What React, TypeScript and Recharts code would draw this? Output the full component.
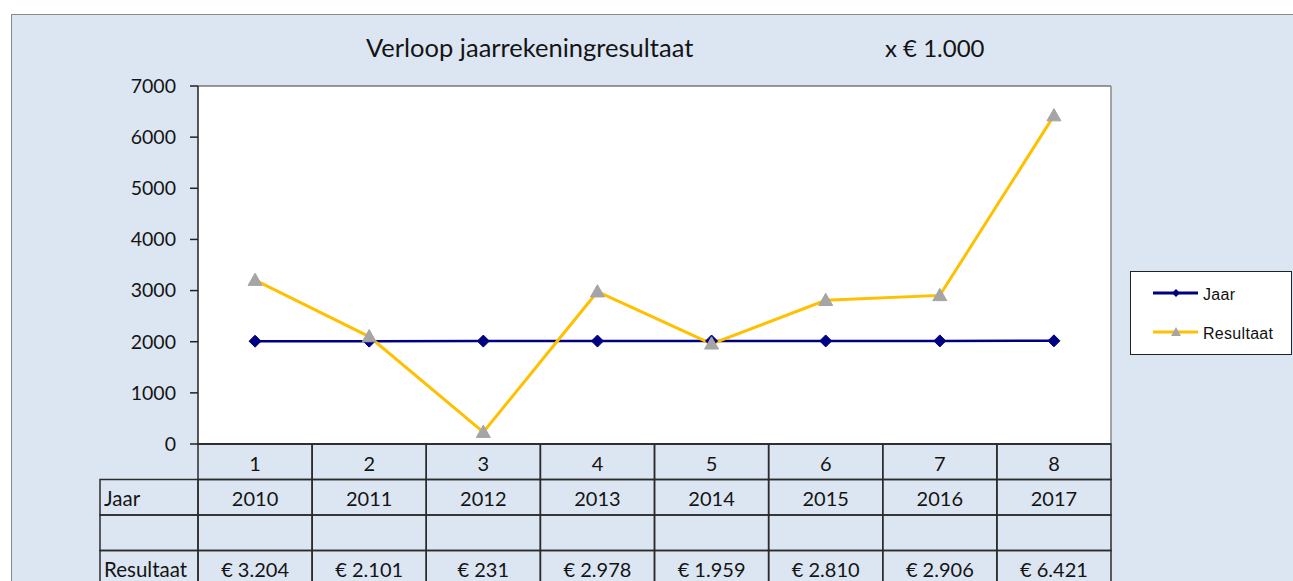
import React from 'react';
import { LineChart, Line, XAxis, YAxis, CartesianGrid } from 'recharts';

const categories = ['1', '2', '3', '4', '5', '6', '7', '8'];
const jaarValues = [2010, 2011, 2012, 2013, 2014, 2015, 2016, 2017];
const resultaatValues = [3204, 2101, 231, 2978, 1959, 2810, 2906, 6421];
const resultaatLabels = ['€ 3.204', '€ 2.101', '€ 231', '€ 2.978', '€ 1.959', '€ 2.810', '€ 2.906', '€ 6.421'];
const yTicks = [0, 1000, 2000, 3000, 4000, 5000, 6000, 7000];
const rowLabels = ['Jaar', '', 'Resultaat'];
const seriesNames = ['Jaar', 'Resultaat'];

const data = categories.map((c, i) => ({ cat: c, Jaar: jaarValues[i], Resultaat: resultaatValues[i] }));

const W = 1293;
const H = 581;
const PLOT_LEFT = 198;
const PLOT_RIGHT = 1111;
const PLOT_TOP = 86;
const PLOT_BOTTOM = 444;
const CELL_W = (PLOT_RIGHT - PLOT_LEFT) / categories.length;
const ROW_H = 35.5;
const LABEL_W = 98;
const BG = '#dce6f2';
const NAVY = '#000080';
const GOLD = '#ffc000';
const GREY = '#a5a5a5';
const FRAME = '#8a8a8a';
const FONT = 'Lato, "Open Sans", sans-serif';
const TABLE_STROKE = '#2b2b2b';
const TEXT = '#141414';

const Diamond = (props: any) => {
  const { cx, cy } = props;
  if (cx == null || cy == null) return null;
  const r = 6;
  return <polygon points={`${cx},${cy - r} ${cx + r},${cy} ${cx},${cy + r} ${cx - r},${cy}`} fill={NAVY} stroke={NAVY} />;
};

const Triangle = (props: any) => {
  const { cx, cy } = props;
  if (cx == null || cy == null) return null;
  const r = 7;
  return <polygon points={`${cx},${cy - r} ${cx + r},${cy + r * 0.75} ${cx - r},${cy + r * 0.75}`} fill={GREY} stroke={GREY} />;
};

const TableTick = (props: any) => {
  const { x, y, payload } = props;
  const i = payload.index;
  const left = x - CELL_W / 2;
  const cells = [categories[i], String(jaarValues[i]), '', resultaatLabels[i]];
  return (
    <g>
      {cells.map((t, r) => (
        <g key={r}>
          <rect x={left} y={y + r * ROW_H} width={CELL_W} height={ROW_H} fill="none" stroke={TABLE_STROKE} strokeWidth={1.5} />
          <text x={x} y={y + r * ROW_H + ROW_H / 2 + 1} textAnchor="middle" dominantBaseline="central" fontFamily={FONT} fontSize={20} fill={TEXT}>
            {t}
          </text>
        </g>
      ))}
      {i === 0 &&
        rowLabels.map((t, r) => (
          <g key={'l' + r}>
            <rect x={left - LABEL_W} y={y + (r + 1) * ROW_H} width={LABEL_W} height={ROW_H} fill="none" stroke={TABLE_STROKE} strokeWidth={1.5} />
            <text x={left - LABEL_W + 4} y={y + (r + 1) * ROW_H + ROW_H / 2 + 1} textAnchor="start" dominantBaseline="central" fontFamily={FONT} fontSize={20.5} fill={TEXT}>
              {t}
            </text>
          </g>
        ))}
    </g>
  );
};

const LegendBox = () => {
  const items = seriesNames.map((n, i) => ({ name: n, color: i === 0 ? NAVY : GOLD, marker: i === 0 ? 'd' : 't' }));
  return (
    <svg width={162} height={84} style={{ display: 'block' }}>
      <rect x={0.5} y={0.5} width={161} height={83} fill="#fff" stroke="#222" strokeWidth={1} />
      {items.map((it, i) => {
        const cy = 22 + i * 39;
        return (
          <g key={it.name}>
            <line x1={23} x2={68} y1={cy} y2={cy} stroke={it.color} strokeWidth={3} />
            {it.marker === 'd' ? (
              <polygon points={`46,${cy - 4} 50,${cy} 46,${cy + 4} 42,${cy}`} fill={NAVY} />
            ) : (
              <polygon points={`46,${cy - 5} 51,${cy + 4} 41,${cy + 4}`} fill={GREY} />
            )}
            <text x={73} y={cy + 1} dominantBaseline="central" fontFamily='"Liberation Sans", Arial, sans-serif' fontSize={16} fill="#111" letterSpacing={0.3}>
              {it.name}
            </text>
          </g>
        );
      })}
    </svg>
  );
};

export default function App() {
  return (
    <div style={{ position: 'absolute', left: 0, top: 0, width: W, height: H, background: '#fff', overflow: 'hidden' }}>
      <div
        style={{
          position: 'absolute',
          left: 11,
          top: 14,
          width: W,
          height: H,
          background: BG,
          borderTop: `1.5px solid ${FRAME}`,
          borderLeft: `1.5px solid ${FRAME}`,
        }}
      />
      <div style={{ position: 'absolute', left: 0, top: 0 }}>
        <LineChart width={W} height={H} data={data} margin={{ top: PLOT_TOP, right: W - PLOT_RIGHT - 1, left: 0, bottom: 0 }}>
          <CartesianGrid vertical={false} stroke="#3a3a3a" strokeWidth={1.2} fill="#ffffff" fillOpacity={1} />
          <XAxis
            dataKey="cat"
            height={H - PLOT_BOTTOM}
            interval={0}
            tickSize={0}
            tickMargin={0}
            tickLine={false}
            axisLine={{ stroke: '#222', strokeWidth: 1.5 }}
            padding={{ left: CELL_W / 2, right: CELL_W / 2 }}
            tick={<TableTick />}
          />
          <XAxis
            xAxisId="top"
            orientation="top"
            dataKey="cat"
            height={0}
            tick={false}
            tickLine={false}
            axisLine={{ stroke: FRAME, strokeWidth: 1.5 }}
          />
          <YAxis
            yAxisId="left"
            width={PLOT_LEFT}
            domain={[0, 7000]}
            ticks={yTicks}
            interval={0}
            tickSize={8}
            tickMargin={14}
            tickLine={{ stroke: '#222', strokeWidth: 1.5 }}
            axisLine={{ stroke: '#222', strokeWidth: 1.5 }}
            tick={{ fontFamily: FONT, fontSize: 19.5, fill: TEXT }}
          />
          <YAxis yAxisId="right" orientation="right" width={1} domain={[0, 7000]} tick={false} tickLine={false} axisLine={{ stroke: FRAME, strokeWidth: 1.5 }} />
          <Line yAxisId="left" type="linear" dataKey="Jaar" stroke={NAVY} strokeWidth={2.5} dot={<Diamond />} activeDot={false} isAnimationActive={false} />
          <Line yAxisId="left" type="linear" dataKey="Resultaat" stroke={GOLD} strokeWidth={3} dot={<Triangle />} activeDot={false} isAnimationActive={false} />
        </LineChart>
      </div>
      <div style={{ position: 'absolute', left: 1130, top: 271 }}>
        <LegendBox />
      </div>
      <div style={{ position: 'absolute', left: 366, top: 31, fontFamily: FONT, fontSize: 25.5, color: TEXT, whiteSpace: 'nowrap', lineHeight: '32px' }}>
        Verloop jaarrekeningresultaat
      </div>
      <div style={{ position: 'absolute', left: 885, top: 32, fontFamily: FONT, fontSize: 24, color: TEXT, whiteSpace: 'nowrap', lineHeight: '32px' }}>
        x € 1.000
      </div>
    </div>
  );
}
